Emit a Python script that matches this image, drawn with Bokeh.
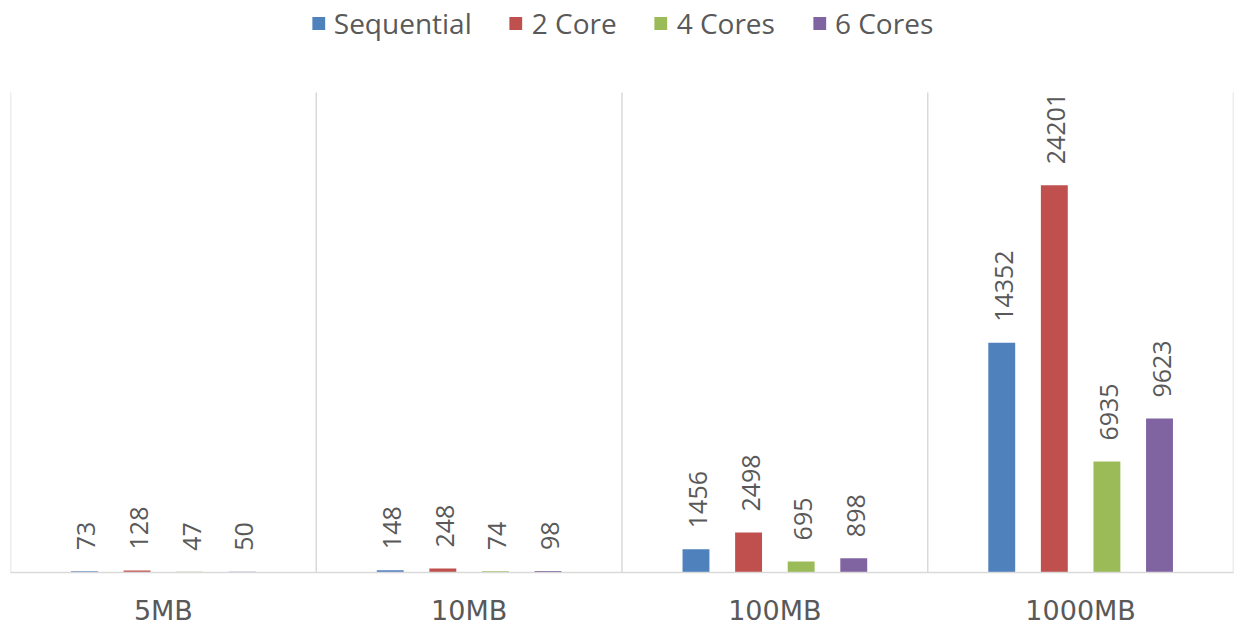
from bokeh.plotting import figure
from bokeh.models import ColumnDataSource, FactorRange, Range1d, Legend, LegendItem
from bokeh.transform import dodge
from bokeh.core.properties import value
from bokeh.embed import file_html
from bokeh.resources import INLINE
import math

# Data sizes and run times per configuration
sizes = ["5MB", "10MB", "100MB", "1000MB"]
sequential = [73, 148, 1456, 14352]
core2 = [128, 248, 2498, 24201]
cores4 = [47, 74, 695, 6935]
cores6 = [50, 98, 898, 9623]

series = [
    ("Sequential", sequential, "#4F81BD", -0.258),
    ("2 Core", core2, "#C0504D", -0.086),
    ("4 Cores", cores4, "#9BBB59", 0.086),
    ("6 Cores", cores6, "#8064A2", 0.258),
]

TEXT = "#595959"
GRID = "#d9d9d9"

p = figure(
    width=1240, height=628,
    x_range=FactorRange(*sizes, range_padding=0),
    y_range=Range1d(0, 35750),
    output_backend="svg", toolbar_location=None,
    min_border_left=10, min_border_right=7,
    min_border_top=0, min_border_bottom=55,
)
p.outline_line_color = None
p.xgrid.grid_line_color = None
p.ygrid.grid_line_color = None
p.yaxis.visible = False

# Vertical separators between size groups
p.segment(x0=[0, 1, 2, 3, 4], y0=[0] * 5, x1=[0, 1, 2, 3, 4], y1=[30000] * 5,
          line_color=GRID, line_width=1.5)

items = []
for name, vals, color, off in series:
    src = ColumnDataSource(dict(x=sizes, top=vals, lbl=[str(v) for v in vals]))
    r = p.vbar(x=dodge("x", off, range=p.x_range), top="top", width=0.088,
               source=src, fill_color=color, line_color=None)
    p.text(x=dodge("x", off, range=p.x_range), y="top", text="lbl", source=src,
           angle=math.pi / 2, text_align="left", text_baseline="middle",
           x_offset=2, y_offset=-21,
           text_font=value("Open Sans"), text_font_size="25px", text_color=TEXT)
    items.append(LegendItem(label=name, renderers=[r]))

legend = Legend(items=items, orientation="horizontal", location="top_center",
                label_text_font="Open Sans", label_text_font_size="28px",
                label_text_color=TEXT, glyph_width=16, glyph_height=16,
                label_standoff=8, spacing=36, padding=2, margin=4,
                border_line_color=None, background_fill_alpha=0)
p.add_layout(legend)

ax = p.xaxis[0]
ax.axis_line_color = GRID
ax.axis_line_width = 1.5
ax.major_tick_line_color = None
ax.minor_tick_line_color = None
ax.major_label_standoff = 16
ax.major_label_text_font = "DejaVu Sans"
ax.major_label_text_font_size = "27px"
ax.major_label_text_color = TEXT

open("out.html", "w").write(file_html(p, INLINE))
